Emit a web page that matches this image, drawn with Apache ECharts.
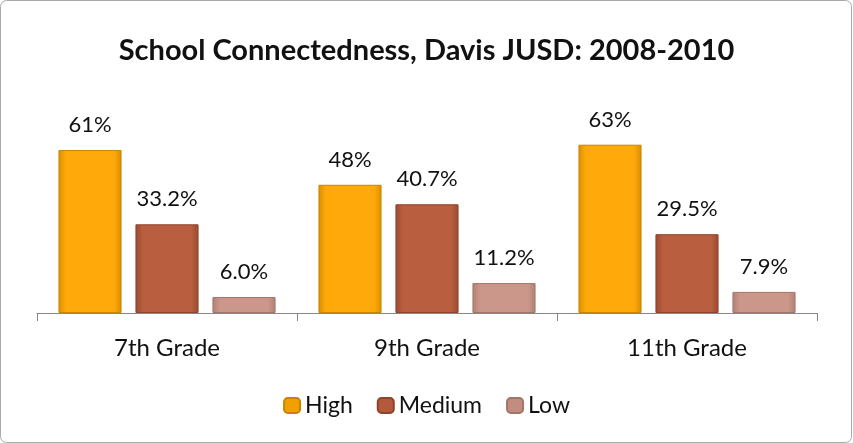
<!DOCTYPE html>
<html><head><meta charset="utf-8">
<script src="https://cdn.jsdelivr.net/npm/echarts@6/dist/echarts.min.js"></script>
<style>html,body{margin:0;padding:0;background:#fff}#c{width:853px;height:443px}</style>
</head><body><div id="c"></div>
<script>
const categories = ['7th Grade', '9th Grade', '11th Grade'];
const seriesNames = ['High', 'Medium', 'Low'];
const highValues = [61, 48, 63];
const mediumValues = [33.2, 40.7, 29.5];
const lowValues = [6.0, 11.2, 7.9];
const highLabels = ['61%', '48%', '63%'];
const mediumLabels = ['33.2%', '40.7%', '29.5%'];
const lowLabels = ['6.0%', '11.2%', '7.9%'];

const FONT = 'Lato, "Open Sans", sans-serif';
function grad(edge, mid) {
  return new echarts.graphic.LinearGradient(0, 0, 1, 0, [
    {offset: 0, color: edge}, {offset: 0.12, color: mid}, {offset: 0.88, color: mid}, {offset: 1, color: edge}
  ]);
}
const styles = [
  {color: grad('#D98E00', '#FFAA0A'), border: '#C98500'},
  {color: grad('#9A4A30', '#B95F40'), border: '#8E432B'},
  {color: grad('#B08075', '#CB978B'), border: '#A57468'}
];
const legendColors = ['#F0A000', '#B35A3C', '#C28D80'];
function mk(i, vals, labels) {
  return {
    name: seriesNames[i], type: 'bar', data: vals,
    barGap: '22%', barCategoryGap: '16.5%',
    itemStyle: {color: styles[i].color, borderColor: styles[i].border, borderWidth: 1},
    label: {show: true, position: 'top', distance: 14, fontFamily: FONT, fontSize: 22, color: '#111',
      formatter: p => labels[p.dataIndex]}
  };
}
const chart = echarts.init(document.getElementById('c'));
chart.setOption({
  animation: false,
  color: legendColors,
  title: {text: 'School Connectedness, Davis JUSD: 2008-2010', left: 'center', top: 31,
    textStyle: {fontFamily: FONT, fontSize: 29, fontWeight: 'bold', color: '#111'}},
  grid: {left: 37, right: 36, top: 126, bottom: 130},
  legend: {top: 389, left: 'center', itemWidth: 16, itemHeight: 15, itemGap: 24,
    textStyle: {fontFamily: FONT, fontSize: 23, color: '#111'},
    data: seriesNames.map((n, i) => ({name: n, itemStyle: {color: legendColors[i]}}))},
  xAxis: {type: 'category', data: categories,
    axisLine: {lineStyle: {color: '#888', width: 1}},
    axisTick: {show: true, length: 8, lineStyle: {color: '#888'}},
    axisLabel: {fontFamily: FONT, fontSize: 24, color: '#111', margin: 23}},
  yAxis: {type: 'value', min: 0, max: 70, show: false, splitLine: {show: false}},
  graphic: [{type: 'rect', shape: {x: 0.5, y: 0.5, width: 851, height: 442, r: 6},
    style: {fill: null, stroke: '#AAAAAA', lineWidth: 1}, silent: true}],
  series: [mk(0, highValues, highLabels), mk(1, mediumValues, mediumLabels), mk(2, lowValues, lowLabels)]
});
</script></body></html>
